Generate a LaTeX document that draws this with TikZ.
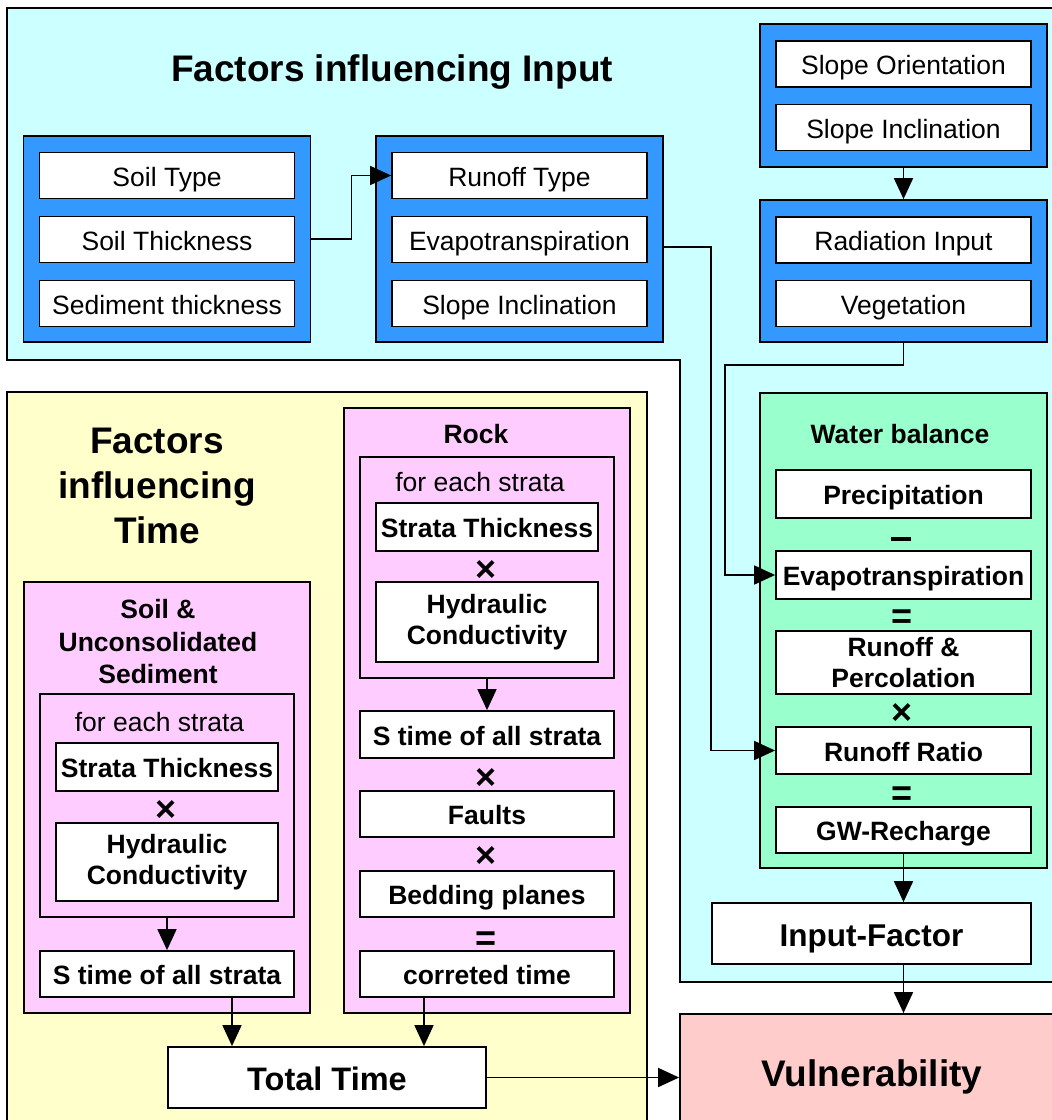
\documentclass[tikz,border=0pt]{standalone}
\usepackage{fontspec}
\setmainfont{Liberation Sans}
\usetikzlibrary{arrows.meta}

\definecolor{inputbg}{HTML}{CCFFFF}
\definecolor{grpblue}{HTML}{3399FF}
\definecolor{timebg}{HTML}{FFFFCC}
\definecolor{pinkbg}{HTML}{FFCCFF}
\definecolor{waterbg}{HTML}{99FFCC}
\definecolor{vulnbg}{HTML}{FFCCCC}

\begin{document}
\begin{tikzpicture}[x=1pt, y=-1pt, line width=1.8pt,
  grp/.style={rectangle, draw, fill=grpblue, minimum width=287pt},
  item/.style={rectangle, draw, fill=white, inner sep=2pt, minimum width=255pt, minimum height=46pt, text height=21pt, text depth=0pt, font=\fontsize{26.5pt}{30pt}\selectfont},
  bitem/.style={rectangle, draw, fill=white, inner sep=2pt, align=center, font=\bfseries\fontsize{26.5pt}{31.5pt}\selectfont},
  oneline/.style={text height=21pt, text depth=0pt},
  pinkframe/.style={rectangle, draw, fill=pinkbg},
  op/.style={inner sep=0pt, font=\bfseries\fontsize{36pt}{36pt}\selectfont},
  subhead/.style={inner sep=0pt, align=center, font=\bfseries\fontsize{26.5pt}{32.5pt}\selectfont},
  bighead/.style={inner sep=0pt, align=center, font=\bfseries\fontsize{37pt}{45pt}\selectfont},
  arr/.style={-{Triangle[length=21pt,width=19pt]}}]

  \useasboundingbox (0,0) rectangle (1052,1120);
  \clip (0,0) rectangle (1052,1120);

  % background areas
  \draw[fill=inputbg] (7,8) -- (1070,8) -- (1070,982) -- (680,982) -- (680,360) -- (7,360) -- cycle;
  \draw[fill=timebg] (7,392) rectangle (647,1140);

  % factors influencing input
  \node[bighead, text height=26.6pt, text depth=0pt] (inhead) at (392,68) {Factors influencing Input};

  \node[grp, minimum height=206pt] (soilgrp) at (167,239) {};
  \node[item] (soiltype) at (167,175.5) {Soil Type};
  \node[item] (soilthick) at (167,239.5) {Soil Thickness};
  \node[item] (sedthick) at (167,303.5) {Sediment thickness};

  \node[grp, minimum height=206pt] (runoffgrp) at (519.5,239) {};
  \node[item] (runofftype) at (519.5,175.5) {Runoff Type};
  \node[item] (evapin) at (519.5,239.5) {Evapotranspiration};
  \node[item] (slopeinc) at (519.5,303.5) {Slope Inclination};

  \node[grp, minimum height=143pt] (slopegrp) at (903.5,95.5) {};
  \node[item] (slopeor) at (903.5,64) {Slope Orientation};
  \node[item] (slopeinc2) at (903.5,127.5) {Slope Inclination};

  \node[grp, minimum height=142pt] (radgrp) at (903.5,271) {};
  \node[item] (radin) at (903.5,240) {Radiation Input};
  \node[item] (veg) at (903.5,303.5) {Vegetation};

  % water balance
  \node[rectangle, draw, fill=waterbg, minimum width=287pt, minimum height=475pt] (water) at (903.5,630.5) {};
  \node[subhead, text height=19pt, text depth=0pt] (waterhead) at (900,434) {Water balance};
  \node[bitem, oneline, minimum width=255pt, minimum height=48pt] (prec) at (903.5,494) {Precipitation};
  \node[inner sep=0pt] (wminus) at (901,539) {\rule{20pt}{4pt}};
  \node[bitem, oneline, minimum width=255pt, minimum height=48pt] (evap) at (903.5,575) {Evapotranspiration};
  \node[op] (weq1) at (902,619) {=};
  \node[bitem, minimum width=255pt, minimum height=63pt] (runperc) at (903.5,662.5) {Runoff \&\\Percolation};
  \node[op] (wtimes) at (902,714) {×};
  \node[bitem, oneline, minimum width=255pt, minimum height=47pt] (ratio) at (903.5,750.5) {Runoff Ratio};
  \node[op] (weq2) at (902,796) {=};
  \node[bitem, oneline, minimum width=255pt, minimum height=46pt] (gwr) at (903.5,830) {GW-Recharge};

  \node[bitem, text height=25.5pt, text depth=0pt, minimum width=319pt, minimum height=61pt, font=\bfseries\fontsize{31.5pt}{36pt}\selectfont] (inputf) at (871.5,933.5) {Input-Factor};
  \node[rectangle, draw, fill=vulnbg, minimum width=384pt, minimum height=118pt, text height=26.6pt, text depth=0pt, font=\bfseries\fontsize{37pt}{40pt}\selectfont] (vuln) at (872,1073) {Vulnerability};

  % factors influencing time
  \node[bighead] (timehead) at (157,486) {Factors\\influencing\\Time};

  \node[pinkframe, minimum width=286pt, minimum height=605pt] (rock) at (487,710.5) {};
  \node[subhead, text height=19pt, text depth=0pt] (rockhead) at (476,434) {Rock};
  \node[pinkframe, minimum width=254pt, minimum height=221pt] (reach) at (487,567.5) {};
  \node[inner sep=0pt, font=\fontsize{26.5pt}{30pt}\selectfont] (reachtxt) at (480,482.5) {for each strata};
  \node[bitem, oneline, minimum width=222pt, minimum height=48pt] (rstrata) at (487,527) {Strata Thickness};
  \node[op] (rtimes1) at (486,571) {×};
  \node[bitem, minimum width=222pt, minimum height=80pt] (rhyd) at (487,622) {Hydraulic\\Conductivity};
  \node[bitem, oneline, minimum width=254pt, minimum height=47pt] (rsum) at (487,734.5) {S time of all strata};
  \node[op] (rtimes2) at (486,779) {×};
  \node[bitem, oneline, minimum width=254pt, minimum height=46pt] (faults) at (487,814) {Faults};
  \node[op] (rtimes3) at (486,857) {×};
  \node[bitem, oneline, minimum width=254pt, minimum height=46pt] (bedding) at (487,894) {Bedding planes};
  \node[op] (req) at (486,941) {=};
  \node[bitem, oneline, minimum width=254pt, minimum height=46pt] (corr) at (487,974) {correted time};

  \node[pinkframe, minimum width=286pt, minimum height=431pt] (soil) at (167,797.5) {};
  \node[subhead] (soilhead) at (158,642) {Soil \&\\Unconsolidated\\Sediment};
  \node[pinkframe, minimum width=254pt, minimum height=223pt] (seach) at (167,805.5) {};
  \node[inner sep=0pt, font=\fontsize{26.5pt}{30pt}\selectfont] (seachtxt) at (159.5,722.5) {for each strata};
  \node[bitem, oneline, minimum width=222pt, minimum height=48pt] (sstrata) at (167,767) {Strata Thickness};
  \node[op] (stimes) at (166,811) {×};
  \node[bitem, minimum width=222pt, minimum height=78pt] (shyd) at (167,862) {Hydraulic\\Conductivity};
  \node[bitem, oneline, minimum width=254pt, minimum height=46pt] (ssum) at (167,974) {S time of all strata};

  \node[bitem, text height=25.5pt, text depth=0pt, minimum width=318pt, minimum height=61pt, font=\bfseries\fontsize{32.5pt}{36pt}\selectfont] (total) at (327,1077.5) {Total Time};

  % connectors
  \draw[arr] (soilgrp.east) -- ++(40,0) |- (runofftype.west);
  \draw[arr] ([yshift=-8pt]runoffgrp.east) -- ++(47,0) |- (ratio.west);
  \draw[arr] (slopegrp.south) -- (radgrp.north);
  \draw[arr] (radgrp.south) -- ++(0,22) -| ([xshift=-50pt]evap.west) -- (evap.west);
  \draw[arr] (gwr.south) -- (gwr.south |- inputf.north);
  \draw[arr] (gwr.south |- inputf.south) -- (gwr.south |- vuln.north);
  \draw[arr] (reach.south) -- (rsum.north);
  \draw[arr] (seach.south) -- (ssum.north);
  \draw[arr] ([xshift=65pt]ssum.south) -- ([xshift=65pt]ssum.south |- total.north);
  \draw[arr] ([xshift=-63pt]corr.south) -- ([xshift=-63pt]corr.south |- total.north);
  \draw[arr] (total.east) -- (total.east -| vuln.west);
\end{tikzpicture}
\end{document}
